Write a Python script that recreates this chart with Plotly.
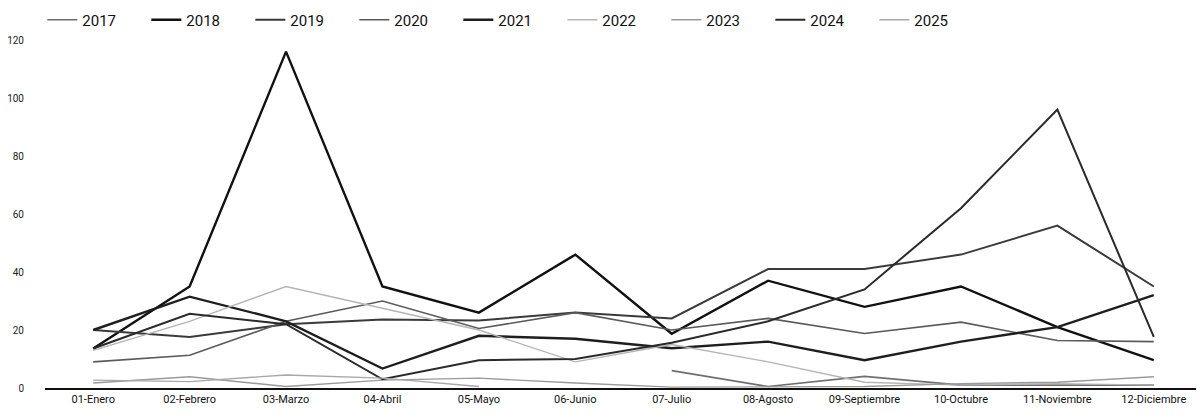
import plotly.graph_objects as go

months = ["01-Enero", "02-Febrero", "03-Marzo", "04-Abril", "05-Mayo", "06-Junio",
          "07-Julio", "08-Agosto", "09-Septiembre", "10-Octubre", "11-Noviembre", "12-Diciembre"]

years = ["2017", "2018", "2019", "2020", "2021", "2022", "2023", "2024", "2025"]

v2017 = [None, None, None, None, None, None, 6, 0.5, 4, 1, 1, 1]
v2018 = [13.6, 35, 116, 35, 26, 46, 18.7, 37, 28, 35, 21, 9.6]
v2019 = [20, 17.6, 22, 23.6, 23.3, 26, 24, 41, 41, 46, 56, 35]
v2020 = [9, 11.3, 23, 30, 20.5, 26, 20, 24, 18.8, 22.7, 16.4, 16]
v2021 = [20, 31.5, 23, 6.7, 18, 17, 13.7, 16, 9.6, 16, 21, 32]
v2022 = [13, 23, 35, 27.4, 20, 9, 15, 9, 2, 1, 1.5, 1]
v2023 = [1.7, 3.9, 0.5, 2.7, 3.4, 1.7, 0.3, 0.5, 0.5, 1.5, 2, 3.9]
v2024 = [13.6, 25.6, 22, 3, 9.6, 10, 15.6, 23, 34, 62, 96, 17.6]
v2025 = [2.7, 2.2, 4.5, 3.4, 0.5, None, None, None, None, None, None, None]

series = [v2017, v2018, v2019, v2020, v2021, v2022, v2023, v2024, v2025]
colors = ["#6e6e6e", "#111111", "#3a3a3a", "#5a5a5a", "#1e1e1e", "#b4b4b4", "#9a9a9a", "#2a2a2a", "#a8a8a8"]
widths = [1.6, 2.4, 2.0, 1.6, 2.4, 1.4, 1.4, 2.0, 1.4]

fig = go.Figure()
for name, vals, c, w in zip(years, series, colors, widths):
    fig.add_trace(go.Scatter(x=months, y=vals, name=name, mode="lines",
                             line=dict(color=c, width=w), connectgaps=False))

fig.update_layout(
    width=1196, height=407,
    margin=dict(l=37, r=2, t=32, b=27, autoexpand=False),
    paper_bgcolor="white", plot_bgcolor="white",
    font=dict(family="Roboto, Arial, sans-serif", color="#222222"),
    showlegend=True,
    legend=dict(orientation="h", xref="container", yref="container",
                x=0.0287, y=0.9705, xanchor="left", yanchor="middle",
                font=dict(size=15, color="#111111"),
                entrywidth=59, entrywidthmode="pixels", itemwidth=30,
                bgcolor="rgba(0,0,0,0)"),
    xaxis=dict(type="category", range=[-0.5, 11.5], showgrid=False, showline=True,
               linecolor="#111111", linewidth=1.5, ticks="", ticklen=0, automargin=False,
               tickfont=dict(size=11, color="#111111"), zeroline=False),
    yaxis=dict(range=[0, 120], tickvals=[0, 20, 40, 60, 80, 100, 120], showgrid=False,
               showline=False, zeroline=False, ticks="", automargin=False,
               tickfont=dict(size=10, color="#222222"), ticklabelstandoff=20),
)

fig.write_html("out.html")
